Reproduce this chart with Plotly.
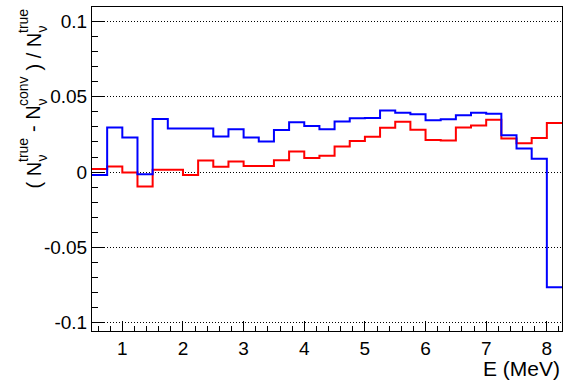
import plotly.graph_objects as go

# bin edges (MeV), 0.25 MeV bins from 0.5 to 8.25
bin_edges = [0.5 + 0.25 * i for i in range(32)]

blue_vals = [-0.002, 0.0296, 0.0229, -0.0014, 0.0353, 0.0289, 0.0289, 0.0289,
             0.0236, 0.0285, 0.0229, 0.0203, 0.0280, 0.0331, 0.0307, 0.0285,
             0.0336, 0.0358, 0.0360, 0.0409, 0.0395, 0.0385, 0.0345, 0.0351,
             0.0378, 0.0395, 0.0387, 0.0245, 0.0156, 0.0088, -0.0765]

red_vals = [0.0021, 0.0037, -0.0003, -0.0096, 0.0015, 0.0015, -0.0020, 0.0077,
            0.0035, 0.0070, 0.0041, 0.0041, 0.0079, 0.0136, 0.0094, 0.0108,
            0.0170, 0.0207, 0.0234, 0.0294, 0.0334, 0.0282, 0.0214, 0.0210,
            0.0296, 0.0309, 0.0347, 0.0223, 0.0192, 0.0227, 0.0327]

x_ticks = [1, 2, 3, 4, 5, 6, 7, 8]
y_ticks = [-0.1, -0.05, 0, 0.05, 0.1]
y_ticktext = ["-0.1", "-0.05", "0", "0.05", "0.1"]

FONT = "Liberation Sans, Arial, Helvetica, sans-serif"
W, H = 563, 381
ML, MR, MT, MB = 92, 1, 7, 50
PW, PH = W - ML - MR, H - MT - MB

fig = go.Figure()
fig.add_trace(go.Scatter(x=bin_edges, y=red_vals + [red_vals[-1]], mode="lines",
                         line=dict(shape="hv", color="#ff0000", width=2),
                         showlegend=False, hoverinfo="skip"))
fig.add_trace(go.Scatter(x=bin_edges, y=blue_vals + [blue_vals[-1]], mode="lines",
                         line=dict(shape="hv", color="#0000ff", width=2),
                         showlegend=False, hoverinfo="skip"))

fig.update_layout(
    width=W, height=H,
    margin=dict(l=ML, r=MR, t=MT, b=MB),
    paper_bgcolor="white", plot_bgcolor="white",
    font=dict(family=FONT, size=19, color="black"),
    xaxis=dict(range=[0.5, 8.25], tickvals=x_ticks, ticks="inside", ticklen=10,
               tickcolor="black", tickwidth=1, showline=True, linecolor="black",
               linewidth=1, mirror=True, showgrid=False, zeroline=False,
               minor=dict(dtick=0.2, tick0=0, ticks="inside", ticklen=5,
                          tickcolor="black", showgrid=False),
               tickfont=dict(size=19, family=FONT)),
    yaxis=dict(range=[-0.1056, 0.1097], tickvals=y_ticks, ticktext=y_ticktext,
               ticks="inside", ticklen=13, tickcolor="black", tickwidth=1,
               showline=True, linecolor="black", linewidth=1, mirror=True,
               showgrid=True, gridcolor="black", griddash="1px,2px", gridwidth=1,
               zeroline=False,
               minor=dict(dtick=0.01, tick0=0, ticks="inside", ticklen=6,
                          tickcolor="black", showgrid=False),
               tickfont=dict(size=19, family=FONT)),
)

fig.add_annotation(text="E (MeV)", xref="paper", yref="paper", x=1.0, y=-0.075,
                   xanchor="right", yanchor="top", showarrow=False,
                   font=dict(size=21, family=FONT))


def px_x(px):
    return (px - ML) / PW


def px_y(py):
    return (H - MB - py) / PH


def rot_text(text, xc, ybottom, size):
    fig.add_annotation(text=text, xref="paper", yref="paper",
                       x=px_x(xc), y=px_y(ybottom), xanchor="center",
                       yanchor="bottom", textangle=-90, showarrow=False,
                       font=dict(size=size, family=FONT), borderpad=0)


MAIN_X, SUP_X, SUB_X = 33, 23, 41
MS, SS = 20, 14
# rotated y-axis title: ( N_v^true - N_v^conv ) / N_v^true
rot_text("( N", MAIN_X, 190, MS)
rot_text("ν", SUB_X, 163, SS)
rot_text("true", SUP_X, 163, SS)
rot_text("- N", MAIN_X, 133.5, MS)
rot_text("ν", SUB_X, 107, SS)
rot_text("conv", SUP_X, 107, SS)
rot_text(") / N", MAIN_X, 71.5, MS)
rot_text("ν", SUB_X, 34, SS)
rot_text("true", SUP_X, 34, SS)

fig.write_html("out.html")
